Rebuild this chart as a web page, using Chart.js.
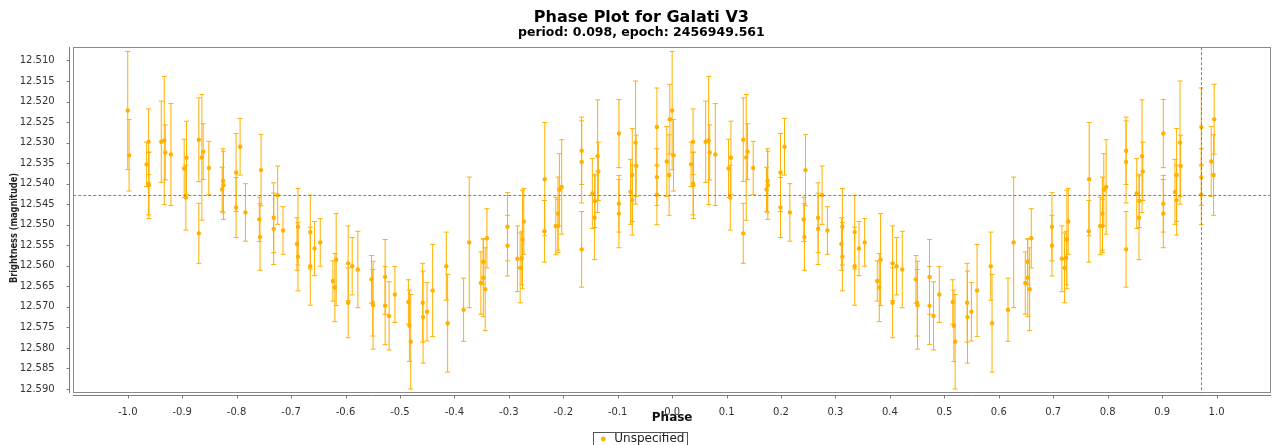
<!DOCTYPE html>
<html><head><meta charset="utf-8">
<script src="https://cdn.jsdelivr.net/npm/chart.js@4.4.1/dist/chart.umd.min.js"></script>
<style>html,body{margin:0;padding:0;background:#fff;overflow:hidden}#wrap{width:1275px;height:445px}</style>
</head><body><div id="wrap"><canvas id="c" width="1275" height="445"></canvas></div>
<script>
// Base observations (phase in [-1, 0)); the phase plot shows each one again at phase + 1.
const phases = [-1.0000,-0.9976,-0.9653,-0.9616,-0.9616,-0.9610,-0.9384,-0.9329,-0.9311,-0.9207,
 -0.8963,-0.8932,-0.8920,-0.8694,-0.8694,-0.8639,-0.8615,-0.8511,-0.8266,-0.8248,
 -0.8242,-0.8010,-0.8010,-0.7936,-0.7838,-0.7582,-0.7570,-0.7551,-0.7319,-0.7319,
 -0.7246,-0.7148,-0.6891,-0.6873,-0.6873,-0.6647,-0.6647,-0.6568,-0.6464,-0.6232,
 -0.6195,-0.6171,-0.5951,-0.5951,-0.5877,-0.5773,-0.5523,-0.5499,-0.5493,-0.5272,
 -0.5272,-0.5199,-0.5093,-0.4845,-0.4826,-0.4802,-0.4582,-0.4575,-0.4503,-0.4399,
 -0.4148,-0.4124,-0.3831,-0.3727,-0.3513,-0.3470,-0.3468,-0.3434,-0.3403,-0.3024,
 -0.3024,-0.2841,-0.2792,-0.2761,-0.2749,-0.2725,-0.2346,-0.2340,-0.2138,-0.2096,
 -0.2096,-0.2071,-0.2028,-0.1662,-0.1662,-0.1662,-0.1466,-0.1424,-0.1417,-0.1369,
 -0.1356,-0.0978,-0.0978,-0.0978,-0.0764,-0.0733,-0.0733,-0.0672,-0.0660,-0.0280,
 -0.0280,-0.0280,-0.0098,-0.0055,-0.0043];
const magnitudes = [12.5222,12.5331,12.5353,12.5298,12.5400,12.5404,12.5298,12.5295,12.5324,12.5329,
 12.5363,12.5434,12.5337,12.5293,12.5521,12.5336,12.5322,12.5362,12.5414,12.5393,
 12.5404,12.5373,12.5458,12.5310,12.5470,12.5487,12.5530,12.5367,12.5483,12.5510,
 12.5428,12.5514,12.5547,12.5505,12.5578,12.5518,12.5601,12.5558,12.5543,12.5637,
 12.5653,12.5585,12.5594,12.5690,12.5601,12.5609,12.5633,12.5690,12.5696,12.5627,
 12.5697,12.5722,12.5670,12.5688,12.5746,12.5785,12.5690,12.5725,12.5712,12.5660,
 12.5601,12.5740,12.5707,12.5543,12.5642,12.5590,12.5629,12.5657,12.5533,12.5505,
 12.5551,12.5583,12.5605,12.5581,12.5536,12.5492,12.5516,12.5389,12.5503,12.5473,
 12.5503,12.5415,12.5408,12.5320,12.5347,12.5560,12.5424,12.5483,12.5442,12.5333,
 12.5370,12.5278,12.5449,12.5473,12.5420,12.5379,12.5440,12.5300,12.5357,12.5262,
 12.5384,12.5427,12.5346,12.5379,12.5243];
const errors = [0.0144,0.0087,0.0054,0.0080,0.0076,0.0081,0.0099,0.0156,0.0067,0.0124,
 0.0071,0.0079,0.0089,0.0102,0.0073,0.0153,0.0068,0.0065,0.0054,0.0078,
 0.0083,0.0095,0.0073,0.0069,0.0070,0.0054,0.0081,0.0087,0.0085,0.0087,
 0.0071,0.0058,0.0064,0.0093,0.0083,0.0090,0.0095,0.0066,0.0058,0.0049,
 0.0083,0.0112,0.0091,0.0085,0.0070,0.0093,0.0058,0.0081,0.0107,0.0091,
 0.0095,0.0083,0.0068,0.0054,0.0087,0.0115,0.0096,0.0112,0.0071,0.0112,
 0.0083,0.0119,0.0077,0.0159,0.0076,0.0055,0.0095,0.0101,0.0072,0.0083,
 0.0074,0.0080,0.0085,0.0065,0.0120,0.0080,0.0075,0.0138,0.0070,0.0089,
 0.0065,0.0088,0.0115,0.0082,0.0100,0.0092,0.0085,0.0102,0.0065,0.0137,
 0.0071,0.0083,0.0069,0.0083,0.0079,0.0113,0.0085,0.0150,0.0075,0.0095,
 0.0069,0.0073,0.0085,0.0098,0.0085];
const xTicks = [-1.0,-0.9,-0.8,-0.7,-0.6,-0.5,-0.4,-0.3,-0.2,-0.1,0.0,0.1,0.2,0.3,0.4,0.5,0.6,0.7,0.8,0.9,1.0];
const yTicks = [12.510,12.515,12.520,12.525,12.530,12.535,12.540,12.545,12.550,12.555,12.560,12.565,12.570,12.575,12.580,12.585,12.590];
const seriesName = 'Unspecified';
const crosshairPhase = 0.972;
const crosshairMag = 12.5427;

const ORANGE = 'rgb(255,176,0)';
const FONT = "'DejaVu Sans', sans-serif";

const base = phases.map((p, i) => ({x: p, y: magnitudes[i], e: errors[i]}));
const points = base.concat(base.map(r => ({x: r.x + 1, y: r.y, e: r.e})));

const errorBars = {
  id: 'errorBars',
  beforeDatasetsDraw(chart) {
    const {ctx, chartArea: a, scales: {x, y}} = chart;
    ctx.save();
    ctx.beginPath(); ctx.rect(a.left, a.top, a.width, a.height); ctx.clip();
    ctx.strokeStyle = ORANGE; ctx.lineWidth = 1;
    chart.data.datasets[0].data.forEach(pt => {
      const px = x.getPixelForValue(pt.x);
      const t = y.getPixelForValue(pt.y - pt.e);
      const b = y.getPixelForValue(pt.y + pt.e);
      ctx.beginPath();
      ctx.moveTo(px, t); ctx.lineTo(px, b);
      ctx.moveTo(px - 2.5, t); ctx.lineTo(px + 2.5, t);
      ctx.moveTo(px - 2.5, b); ctx.lineTo(px + 2.5, b);
      ctx.stroke();
    });
    ctx.restore();
  }
};

const frame = {
  id: 'frame',
  afterDatasetsDraw(chart) {
    const {ctx, chartArea: a, scales: {x, y}} = chart;
    ctx.save();
    // crosshair
    ctx.strokeStyle = 'rgb(110,110,255)';
    ctx.lineWidth = 1;
    ctx.setLineDash([3, 2]);
    const cx = Math.round(x.getPixelForValue(crosshairPhase)) + 0.5;
    const cy = Math.round(y.getPixelForValue(crosshairMag)) + 0.5;
    ctx.beginPath();
    ctx.moveTo(a.left, cy); ctx.lineTo(a.right, cy);
    ctx.moveTo(cx, a.top); ctx.lineTo(cx, a.bottom);
    ctx.stroke();
    ctx.setLineDash([]);
    // plot border
    const L = Math.round(a.left) + 0.5, R = Math.round(a.right) - 0.5;
    const T = Math.round(a.top) + 0.5, B = Math.round(a.bottom) - 0.5;
    ctx.strokeStyle = '#8a8a8a';
    ctx.strokeRect(L, T, R - L, B - T);
    // axis lines (offset from plot area)
    ctx.strokeStyle = '#7a7a7a';
    const ax = L - 4, ay = B + 3;
    ctx.beginPath();
    ctx.moveTo(ax, T - 0.5); ctx.lineTo(ax, B + 0.5);
    ctx.moveTo(L - 0.5, ay); ctx.lineTo(R + 0.5, ay);
    xTicks.forEach(v => {
      const p = Math.round(x.getPixelForValue(v)) + 0.5;
      ctx.moveTo(p, ay); ctx.lineTo(p, ay + 3);
    });
    yTicks.forEach(v => {
      const p = Math.round(y.getPixelForValue(v)) + 0.5;
      ctx.moveTo(ax - 3, p); ctx.lineTo(ax, p);
    });
    ctx.stroke();
    ctx.restore();
  },
  afterDraw(chart) {
    const {ctx} = chart;
    ctx.save();
    // y axis title
    ctx.translate(14, 228);
    ctx.rotate(-Math.PI / 2);
    ctx.font = "bold 11px " + FONT;
    ctx.fillStyle = '#222';
    ctx.textAlign = 'center';
    ctx.textBaseline = 'middle';
    ctx.fillText('Brightness (magnitude)', 0, 0, 110);
    ctx.restore();
    // legend frame
    const lg = chart.legend;
    if (lg && lg.legendHitBoxes && lg.legendHitBoxes[0]) {
      const h = lg.legendHitBoxes[0];
      ctx.save();
      ctx.strokeStyle = '#555';
      ctx.lineWidth = 1;
      const l = Math.round(h.left - 5) + 0.5, r = Math.round(h.left + h.width + 3) + 0.5;
      const t = Math.round(h.top + h.height / 2 - 7) + 0.5;
      ctx.strokeRect(l, t, r - l, 20);
      ctx.restore();
    }
  }
};

new Chart(document.getElementById('c'), {
  type: 'scatter',
  data: {datasets: [{
    label: seriesName,
    data: points,
    backgroundColor: ORANGE,
    borderColor: ORANGE,
    borderWidth: 0,
    pointRadius: 2.2,
    pointStyle: 'circle'
  }]},
  options: {
    responsive: false,
    devicePixelRatio: 1,
    animation: false,
    events: [],
    layout: {padding: {left: 10, right: 2.3, top: 0, bottom: 0}},
    plugins: {
      title: {display: true, text: 'Phase Plot for Galati V3', color: '#000',
        font: {family: FONT, size: 16, weight: 'bold', lineHeight: 1}, padding: {top: 10.3, bottom: 0}},
      subtitle: {display: true, text: 'period: 0.098, epoch: 2456949.561', color: '#000',
        font: {family: FONT, size: 12.5, weight: 'bold', lineHeight: 1}, padding: {top: 0.5, bottom: 7.9}},
      legend: {display: true, position: 'bottom', maxHeight: 16,
        labels: {usePointStyle: true, pointStyle: 'circle', boxWidth: 10, boxHeight: 3.5, padding: 4,
          color: '#222', font: {family: FONT, size: 12}}},
      tooltip: {enabled: false}
    },
    scales: {
      x: {
        type: 'linear', min: -1.1, max: 1.1,
        grid: {display: false}, border: {display: false},
        afterBuildTicks: s => { s.ticks = xTicks.map(v => ({value: v})); },
        afterFit: s => { s.height = 35.7; },
        ticks: {autoSkip: false, maxRotation: 0, minRotation: 0, padding: 5, color: '#333',
          font: {family: FONT, size: 10}, callback: v => Number(v).toFixed(1)},
        title: {display: true, text: 'Phase', color: '#111', font: {family: FONT, size: 12, weight: 'bold'},
          padding: {top: 0, bottom: 3.8}}
      },
      y: {
        type: 'linear', reverse: true, min: 12.50677, max: 12.59105,
        grid: {display: false}, border: {display: false},
        afterBuildTicks: s => { s.ticks = yTicks.map(v => ({value: v})); },
        afterFit: s => { s.width = 63.3; },
        ticks: {autoSkip: false, padding: 10.6, color: '#333',
          font: {family: FONT, size: 10}, callback: v => Number(v).toFixed(3)}
      }
    }
  },
  plugins: [errorBars, frame]
});
</script></body></html>
